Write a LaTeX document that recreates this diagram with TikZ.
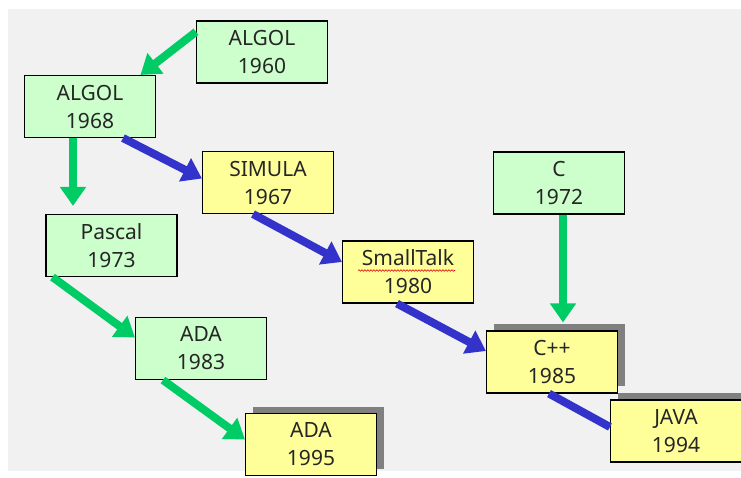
\documentclass[tikz,border=0pt]{standalone}
\usepackage{fontspec}
\setmainfont{Noto Sans}
\usetikzlibrary{arrows.meta,shadows,decorations.pathmorphing}
\definecolor{boxgreen}{HTML}{CCFFCC}
\definecolor{boxyellow}{HTML}{FFFF99}
\definecolor{arrgreen}{HTML}{00CC66}
\definecolor{arrblue}{HTML}{3333CC}
\definecolor{bggray}{HTML}{F1F1F1}
\definecolor{shadowgray}{HTML}{808080}
\tikzset{
  langbox/.style={draw=black, line width=1.1pt, minimum width=131pt, minimum height=62pt,
    inner sep=0pt, align=center, font=\fontsize{21}{28}\selectfont, text=black!85},
  oldlang/.style={langbox, fill=boxgreen},
  newlang/.style={langbox, fill=boxyellow},
  shadowed/.style={copy shadow={shadow xshift=7pt, shadow yshift=7pt, fill=shadowgray, draw=none}},
  garrow/.style={draw=arrgreen, line width=8pt, -{Triangle[length=19pt,width=25pt]}},
  barrow/.style={draw=arrblue, line width=8pt, -{Triangle[length=19pt,width=25pt]}},
  bline/.style={draw=arrblue, line width=8pt},
}
\begin{document}
\begin{tikzpicture}[x=1pt,y=-1pt]
  % page and slide background
  \fill[white] (0,0) rectangle (741,477);
  \fill[bggray] (8,9) rectangle (741,471);
  \useasboundingbox (0,0) rectangle (741,477);

  % language boxes
  \node[oldlang] (a60)   at (262,52)    {ALGOL\\1960};
  \node[oldlang] (a68)   at (90,106.5)  {ALGOL\\1968};
  \node[newlang] (sim)   at (268,182.5) {SIMULA\\1967};
  \node[oldlang] (pas)   at (111.5,245.5) {Pascal\\1973};
  \node[oldlang] (ada83) at (201,348.5) {ADA\\1983};
  \node[newlang, shadowed] (ada95) at (311,444.5) {ADA\\1995};
  \node[newlang] (st)    at (408,272)   {SmallTalk\\1980};
  \node[oldlang] (c)     at (559,183)   {C\\1972};
  \node[newlang, shadowed] (cpp)  at (552,362) {C++\\1985};
  \node[newlang, shadowed] (java) at (676,431) {JAVA\\1994};

  % spell-check underline
  \draw[red!85!black, line width=0.6pt, decorate,
        decoration={snake, amplitude=0.8pt, segment length=3pt}]
    ([shift={(-50,-1.5)}]st.center) -- ([shift={(47,-1.5)}]st.center);

  % derivation arrows
  \draw[garrow] (a60.163) -- (a68.32);
  \draw[garrow, shorten >=8pt] ([xshift=-17pt]a68.south) -- ([xshift=-17pt]a68.south |- pas.north);
  \draw[barrow] ([xshift=33pt]a68.south) -- ([yshift=4pt]sim.west);
  \draw[barrow] ([xshift=-15pt]sim.south) -- ([yshift=10pt]st.west);
  \draw[garrow] ([xshift=7pt]pas.south west) -- ([yshift=11pt]ada83.west);
  \draw[garrow] ([xshift=-38pt]ada83.south) -- ([yshift=5pt]ada95.west);
  \draw[barrow] ([xshift=-11pt]st.south) -- ([yshift=11pt]cpp.west);
  \draw[garrow, shorten >=8pt] ([xshift=4pt]c.south) -- ([xshift=4pt]c.south |- cpp.north);
  \draw[bline] ([xshift=-3pt]cpp.south) -- ([yshift=4pt]java.west);
\end{tikzpicture}
\end{document}
